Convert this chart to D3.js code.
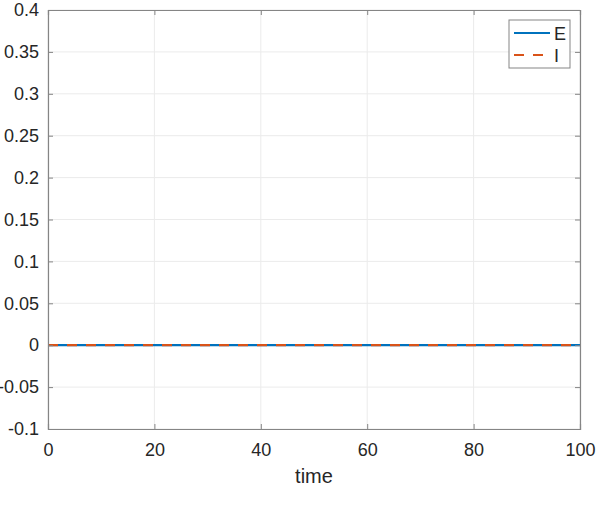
<!DOCTYPE html>
<html>
<head>
<meta charset="utf-8">
<script src="https://cdn.jsdelivr.net/npm/d3@7"></script>
<style>
body{margin:0;background:#fff;}
text{font-family:"Liberation Sans",Arial,sans-serif;fill:#262626;}
</style>
</head>
<body>
<svg id="chart"></svg>
<script>
// data
var timeVals = [0, 100];
var eVals = [0, 0];
var iVals = [0, 0];
var xTicks = [0, 20, 40, 60, 80, 100];
var yTicks = [-0.1, -0.05, 0, 0.05, 0.1, 0.15, 0.2, 0.25, 0.3, 0.35, 0.4];
var seriesNames = ["E", "I"];

var screen = {width: 598, height: 532};
var margins = {top: 10, right: 18, bottom: 103, left: 48};
var w = screen.width - margins.left - margins.right;
var h = screen.height - margins.top - margins.bottom;

var svg = d3.select("#chart")
  .attr("width", screen.width)
  .attr("height", screen.height);

var x = d3.scaleLinear().domain([0, 100]).range([0, w]);
var y = d3.scaleLinear().domain([-0.1, 0.4]).range([h, 0]);

var g = svg.append("g").attr("transform", "translate(" + margins.left + "," + margins.top + ")");

// grid
g.selectAll(".gx").data(xTicks).enter().append("line")
  .attr("x1", function(d){return x(d)}).attr("x2", function(d){return x(d)})
  .attr("y1", 0).attr("y2", h)
  .style("stroke", "#ebebeb").style("stroke-width", 1);
g.selectAll(".gy").data(yTicks).enter().append("line")
  .attr("y1", function(d){return y(d)}).attr("y2", function(d){return y(d)})
  .attr("x1", 0).attr("x2", w)
  .style("stroke", "#ebebeb").style("stroke-width", 1);

// lines
var line = d3.line().x(function(d){return x(d[0])}).y(function(d){return y(d[1])});
g.append("path").datum(timeVals.map(function(t, i){return [t, eVals[i]]}))
  .attr("d", line).style("fill", "none").style("stroke", "#0072bd").style("stroke-width", 2.2);
g.append("path").datum(timeVals.map(function(t, i){return [t, iVals[i]]}))
  .attr("d", line).style("fill", "none").style("stroke", "#d95319").style("stroke-width", 2.2)
  .style("stroke-dasharray", "10,9");

// axes (ticks inside, box all round); plain hyphen for minus like the original
var fmt = function(d){return String(+d.toFixed(2))};
var axL = g.append("g").call(d3.axisLeft(y).tickValues(yTicks).tickSize(-5).tickPadding(9).tickFormat(fmt));
var axB = g.append("g").attr("transform", "translate(0," + h + ")")
  .call(d3.axisBottom(x).tickValues(xTicks).tickSize(-5).tickPadding(14).tickFormat(fmt));
var axR = g.append("g").attr("transform", "translate(" + w + ",0)")
  .call(d3.axisRight(y).tickValues(yTicks).tickSize(-5).tickFormat(""));
var axT = g.append("g")
  .call(d3.axisTop(x).tickValues(xTicks).tickSize(-5).tickFormat(""));
[axL, axB, axR, axT].forEach(function(a){
  a.selectAll("path").style("stroke", "#858585").style("stroke-width", 1.2);
  a.selectAll("line").style("stroke", "#858585");
  a.selectAll("text").style("font-size", "18px").style("fill", "#262626")
    .style("font-family", "'Liberation Sans',Arial,sans-serif");
});

// x label
svg.append("text")
  .attr("x", margins.left + w / 2).attr("y", 483)
  .attr("text-anchor", "middle")
  .style("font-size", "20px")
  .text("time");

// legend
var leg = svg.append("g").attr("transform", "translate(509,20)");
leg.append("rect").attr("width", 61).attr("height", 48)
  .style("fill", "#fff").style("stroke", "#858585").style("stroke-width", 1);
var colors = ["#0072bd", "#d95319"];
var dashes = ["none", "10,9"];
seriesNames.forEach(function(n, i){
  leg.append("line").attr("x1", 5).attr("x2", 41)
    .attr("y1", 13 + i * 22).attr("y2", 13 + i * 22)
    .style("stroke", colors[i]).style("stroke-width", 2.2).style("stroke-dasharray", dashes[i]);
  leg.append("text").attr("x", 45).attr("y", 19.5 + i * 22)
    .style("font-size", "18px").text(n);
});
</script>
</body>
</html>
